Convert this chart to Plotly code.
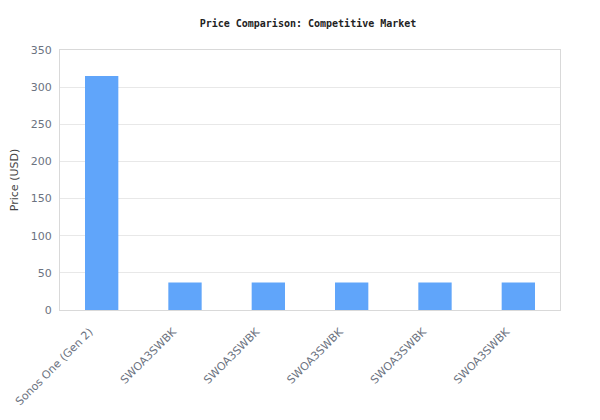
import plotly.graph_objects as go

# product labels (several share the same model name)
products = ["Sonos One (Gen 2)", "SWOA3SWBK", "SWOA3SWBK", "SWOA3SWBK", "SWOA3SWBK", "SWOA3SWBK"]
prices = [315, 37, 37, 37, 37, 37]
y_ticks = [0, 50, 100, 150, 200, 250, 300, 350]

positions = list(range(len(products)))

fig = go.Figure(
    go.Bar(
        x=positions,
        y=prices,
        marker=dict(color="#60a5fa", line=dict(width=0)),
        width=0.4,
        hovertext=products,
    )
)

fig.update_layout(
    width=600,
    height=420,
    paper_bgcolor="white",
    plot_bgcolor="white",
    margin=dict(l=52, r=48, t=42, b=118),
    showlegend=False,
    title=dict(
        text="<b>Price Comparison: Competitive Market</b>",
        x=0.5,
        xanchor="center",
        y=0.964,
        yanchor="middle",
        font=dict(family="DejaVu Sans Mono", size=10, color="#222222"),
    ),
    font=dict(family="DejaVu Sans", size=11, color="#6b7280"),
)

fig.update_xaxes(
    tickmode="array",
    tickvals=positions,
    ticktext=products,
    tickangle=-45,
    range=[-0.5, len(products) - 0.5],
    showgrid=False,
    showline=True,
    linecolor="#d9d9d9",
    linewidth=1,
    mirror=True,
    ticks="",
    automargin=False,
    ticklabelstandoff=10,
    ticklabelshift=-12,
    tickfont=dict(size=11, color="#6b7280"),
)

fig.update_yaxes(
    range=[0, 350],
    tickmode="array",
    tickvals=y_ticks,
    showgrid=True,
    gridcolor="#e8e8e8",
    gridwidth=1,
    showline=True,
    linecolor="#d9d9d9",
    linewidth=1,
    mirror=True,
    zeroline=False,
    ticks="",
    automargin=False,
    ticklabelstandoff=5,
    tickfont=dict(size=11, color="#6b7280"),
    title=dict(text="Price (USD)", font=dict(size=11, color="#444444")),
)

fig.write_html("out.html")
